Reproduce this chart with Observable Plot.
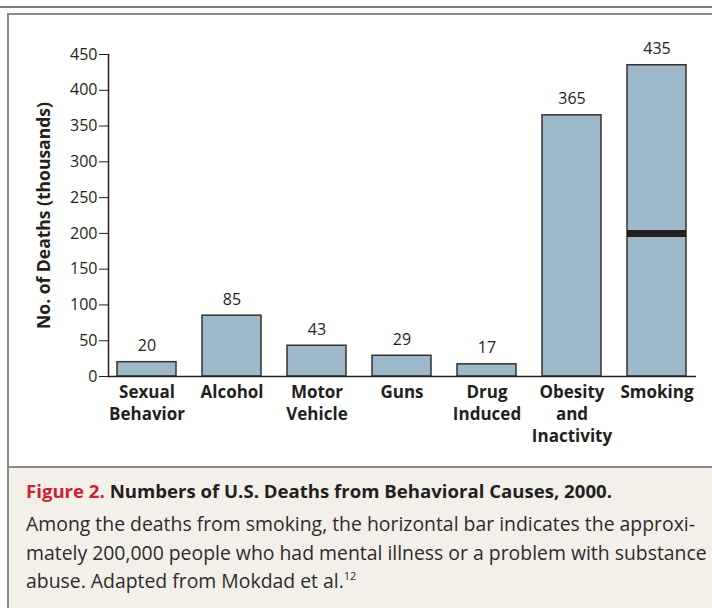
<!DOCTYPE html>
<html>
<head>
<meta charset="utf-8">
<script src="https://cdn.jsdelivr.net/npm/d3@7"></script>
<script src="https://cdn.jsdelivr.net/npm/@observablehq/plot@0.6"></script>
<style>
  html, body { margin: 0; padding: 0; }
  body { width: 712px; height: 608px; overflow: hidden; position: relative; background: #fff; font-family: "Open Sans", sans-serif; }
  #toprule { position: absolute; left: 0; top: 6px; width: 712px; height: 2px; background: #7d7d7d; }
  #box { position: absolute; left: 7px; top: 13px; width: 720px; height: 455px; border-left: 2px solid #8a8a8a; border-top: 2px solid #8a8a8a; box-sizing: border-box; }
  #chart { position: absolute; left: 0; top: 14px; }
  #caption { position: absolute; left: 7px; top: 466px; width: 720px; height: 142px; border-left: 2px solid #8a8a8a; border-top: 2px solid #8a8a8a; box-sizing: border-box; background: #f3f0ea; }
  #title { position: absolute; left: 17px; top: 10px; white-space: nowrap; font-size: 18.6px; font-weight: 700; color: #231f20; }
  #title .fig { color: #cc2233; }
  #body { position: absolute; left: 17px; top: 42px; white-space: nowrap; font-size: 19.4px; line-height: 28.5px; color: #2e2a2b; }
  #body sup { font-size: 11px; vertical-align: 8px; line-height: 0; }
  #chart g[aria-label="y-axis label"] text { font-weight: 700; font-size: 17.5px; }
</style>
</head>
<body>
<div id="toprule"></div>
<div id="box"></div>
<div id="chart"></div>
<div id="caption">
  <div id="title"><span class="fig">Figure 2.</span> Numbers of U.S. Deaths from Behavioral Causes, 2000.</div>
  <div id="body">Among the deaths from smoking, the horizontal bar indicates the approxi-<br>mately 200,000 people who had mental illness or a problem with substance<br>abuse. Adapted from Mokdad et al.<sup>12</sup></div>
</div>
<script>
const categories = ["Sexual\nBehavior", "Alcohol", "Motor\nVehicle", "Guns", "Drug\nInduced", "Obesity\nand\nInactivity", "Smoking"];
const deaths = [20, 85, 43, 29, 17, 365, 435];
const yTicks = [0, 50, 100, 150, 200, 250, 300, 350, 400, 450];
const subgroupCause = ["Smoking"];
const subgroupValue = [200];

const data = categories.map((c, i) => ({cause: c, deaths: deaths[i]}));
const subgroup = subgroupCause.map((c, i) => ({cause: c, value: subgroupValue[i]}));

const chart = Plot.plot({
  width: 712,
  height: 452,
  marginLeft: 108,
  marginRight: 16,
  marginTop: 40,
  marginBottom: 90,
  style: {fontFamily: "'Open Sans', sans-serif", fontSize: "16px", color: "#231f20", background: "transparent", overflow: "visible"},
  x: {domain: categories, paddingInner: 0.302, paddingOuter: 0.07, align: 0.5},
  y: {domain: [0, 450]},
  marks: [
    Plot.barY(data, {x: "cause", y: "deaths", fill: "#9db8c9", stroke: "#333", strokeWidth: 1.5}),
    Plot.tickY(subgroup, {x: "cause", y: "value", stroke: "#231f20", strokeWidth: 7}),
    Plot.text(data, {x: "cause", y: "deaths", text: d => String(d.deaths), dy: -11, lineAnchor: "bottom", fontSize: 16, fill: "#231f20"}),
    Plot.axisY({ticks: yTicks, tickSize: 9, tickPadding: 2, fontSize: 16, label: "No. of Deaths (thousands)", labelAnchor: "center", labelOffset: 71, labelArrow: "none"}),
    Plot.axisX({tickSize: 0, tickPadding: 6, label: null, fontWeight: "bold", fontSize: 17, lineHeight: 1.3}),
    Plot.ruleY([0], {stroke: "#231f20", strokeWidth: 1.5}),
    Plot.frame({anchor: "left", stroke: "#231f20", strokeWidth: 1.5})
  ]
});
document.getElementById("chart").appendChild(chart);
</script>
</body>
</html>
